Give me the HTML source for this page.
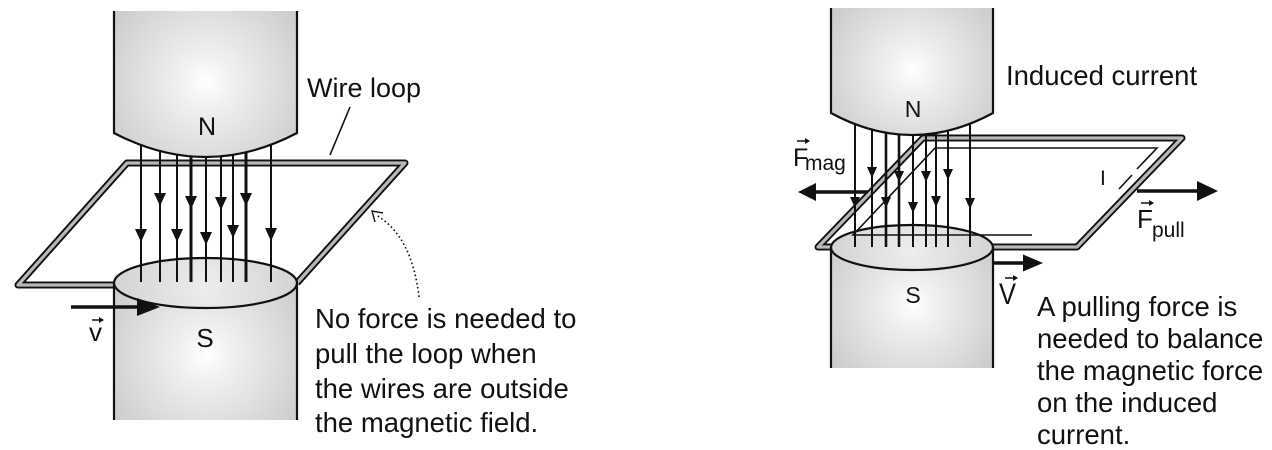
<!DOCTYPE html>
<html>
<head>
<meta charset="utf-8">
<style>
  html,body{margin:0;padding:0;background:#fff;}
  svg{display:block;}
  text{font-family:"Liberation Sans",Arial,sans-serif;fill:#111;}
</style>
</head>
<body>
<svg width="1272" height="450" viewBox="0 0 1272 450" xmlns="http://www.w3.org/2000/svg">
  <defs>
    <radialGradient id="gN1" gradientUnits="userSpaceOnUse" cx="206" cy="82" r="125">
      <stop offset="0" stop-color="#ffffff"/>
      <stop offset="0.2" stop-color="#f1f1f1"/>
      <stop offset="1" stop-color="#c6c6c6"/>
    </radialGradient>
    <radialGradient id="gS1" gradientUnits="userSpaceOnUse" cx="206" cy="355" r="125">
      <stop offset="0" stop-color="#ffffff"/>
      <stop offset="0.2" stop-color="#f1f1f1"/>
      <stop offset="1" stop-color="#c6c6c6"/>
    </radialGradient>
    <radialGradient id="gE1" gradientUnits="userSpaceOnUse" cx="206" cy="288" r="95">
      <stop offset="0" stop-color="#ededed"/>
      <stop offset="1" stop-color="#d2d2d2"/>
    </radialGradient>
    <radialGradient id="gN2" gradientUnits="userSpaceOnUse" cx="913" cy="70" r="110">
      <stop offset="0" stop-color="#ffffff"/>
      <stop offset="0.2" stop-color="#f1f1f1"/>
      <stop offset="1" stop-color="#c6c6c6"/>
    </radialGradient>
    <radialGradient id="gS2" gradientUnits="userSpaceOnUse" cx="913" cy="305" r="110">
      <stop offset="0" stop-color="#ffffff"/>
      <stop offset="0.2" stop-color="#f1f1f1"/>
      <stop offset="1" stop-color="#c6c6c6"/>
    </radialGradient>
    <radialGradient id="gE2" gradientUnits="userSpaceOnUse" cx="912" cy="252" r="85">
      <stop offset="0" stop-color="#ededed"/>
      <stop offset="1" stop-color="#d2d2d2"/>
    </radialGradient>
  </defs>

  <!-- ================= LEFT FIGURE ================= -->
  <!-- wire loop -->
  <path d="M114 285 L18 285 L127 163 L405 163 L297 283" fill="none" stroke="#111" stroke-width="7" stroke-linejoin="round"/>
  <path d="M114 285 L18 285 L127 163 L405 163 L297 283" fill="none" stroke="#b8b8b8" stroke-width="3.2" stroke-linejoin="round"/>

  <!-- S magnet -->
  <rect x="114" y="283" width="183" height="137" fill="url(#gS1)"/>
  <line x1="114" y1="283" x2="114" y2="420" stroke="#111" stroke-width="2.2"/>
  <line x1="297" y1="283" x2="297" y2="420" stroke="#111" stroke-width="2.2"/>
  <ellipse cx="205.5" cy="283" rx="91.5" ry="25" fill="url(#gE1)" stroke="#111" stroke-width="2.2"/>

  <!-- field lines -->
  <g stroke="#111" stroke-width="2">
    <line x1="141" y1="140" x2="141" y2="282"/>
    <line x1="160" y1="140" x2="160" y2="282"/>
    <line x1="177" y1="140" x2="177" y2="282"/>
    <line x1="191" y1="140" x2="191" y2="282" stroke-width="3"/>
    <line x1="206" y1="140" x2="206" y2="282"/>
    <line x1="221" y1="140" x2="221" y2="282"/>
    <line x1="233" y1="140" x2="233" y2="282"/>
    <line x1="246" y1="140" x2="246" y2="282" stroke-width="3"/>
    <line x1="271" y1="140" x2="271" y2="282"/>
  </g>
  <g fill="#111">
    <polygon points="135,229 147,229 141,242"/>
    <polygon points="154,193 166,193 160,206"/>
    <polygon points="171,229 183,229 177,242"/>
    <polygon points="185,196 197,196 191,209"/>
    <polygon points="200,232 212,232 206,245"/>
    <polygon points="215,197 227,197 221,210"/>
    <polygon points="227,225 239,225 233,238"/>
    <polygon points="240,193 252,193 246,206"/>
    <polygon points="265,228 277,228 271,241"/>
  </g>

  <!-- N magnet -->
  <path d="M114 11 L114 133 Q205.5 181 297 133 L297 11" fill="url(#gN1)" stroke="#111" stroke-width="2.2"/>
  <text x="207" y="135" font-size="25" text-anchor="middle">N</text>
  <text x="205" y="347" font-size="26" text-anchor="middle">S</text>

  <!-- velocity arrow -->
  <line x1="71" y1="307" x2="140" y2="307" stroke="#111" stroke-width="3.5"/>
  <polygon points="160,307 137,298 137,316" fill="#111"/>
  <text x="89" y="341" font-size="26">v</text>
  <line x1="92" y1="320" x2="101" y2="320" stroke="#111" stroke-width="1.5"/>
  <polygon points="104,320 99,317 99,323" fill="#111"/>

  <!-- Wire loop label -->
  <text x="307" y="97" font-size="27">Wire loop</text>
  <line x1="350" y1="107" x2="330" y2="155" stroke="#111" stroke-width="1.6"/>

  <!-- dotted pointer -->
  <path d="M419 297 Q412 236 376 215" fill="none" stroke="#111" stroke-width="1.6" stroke-dasharray="1.6 2.6"/>
  <path d="M375 222 L372 211 L383 213" fill="none" stroke="#111" stroke-width="1.4"/>

  <g font-size="27.5">
    <text x="315" y="328">No force is needed to</text>
    <text x="315" y="363">pull the loop when</text>
    <text x="315" y="398">the wires are outside</text>
    <text x="315" y="432">the magnetic field.</text>
  </g>

  <!-- ================= RIGHT FIGURE ================= -->
  <!-- F_mag arrow (behind) -->
  <line x1="812" y1="192" x2="872" y2="192" stroke="#111" stroke-width="3.5"/>
  <polygon points="798,192 816,183 816,201" fill="#111"/>

  <!-- wire loop -->
  <path d="M993 247 L1077 247 L1182 138 L923 138 L818 247 L834 247" fill="none" stroke="#111" stroke-width="7" stroke-linejoin="round"/>
  <path d="M993 247 L1077 247 L1182 138 L923 138 L818 247 L834 247" fill="none" stroke="#b8b8b8" stroke-width="3.2" stroke-linejoin="round"/>

  <!-- S magnet -->
  <rect x="831" y="247" width="162" height="121" fill="url(#gS2)"/>
  <line x1="831" y1="247" x2="831" y2="368" stroke="#111" stroke-width="2.2"/>
  <line x1="993" y1="247" x2="993" y2="368" stroke="#111" stroke-width="2.2"/>
  <ellipse cx="912" cy="247.5" rx="81" ry="22.5" fill="url(#gE2)" stroke="#111" stroke-width="2.2"/>

  <!-- inner current lines -->
  <polyline points="1032,235 853,235 935,148 1157,148 1137,169" fill="none" stroke="#111" stroke-width="1.6"/>
  <line x1="1132" y1="175" x2="1119" y2="189" stroke="#111" stroke-width="1.6"/>

  <!-- field lines -->
  <g stroke="#111" stroke-width="2">
    <line x1="855" y1="115" x2="855" y2="247"/>
    <line x1="872" y1="115" x2="872" y2="247"/>
    <line x1="886" y1="115" x2="886" y2="247" stroke-width="2.6"/>
    <line x1="899" y1="115" x2="899" y2="247" stroke-width="2.6"/>
    <line x1="913" y1="115" x2="913" y2="247"/>
    <line x1="926" y1="115" x2="926" y2="247"/>
    <line x1="936" y1="115" x2="936" y2="247"/>
    <line x1="948" y1="115" x2="948" y2="247"/>
    <line x1="970" y1="115" x2="970" y2="247"/>
  </g>
  <g fill="#111">
    <polygon points="850,197 860,197 855,208"/>
    <polygon points="867,167 877,167 872,178"/>
    <polygon points="881,197 891,197 886,208"/>
    <polygon points="894,171 904,171 899,182"/>
    <polygon points="908,202 918,202 913,213"/>
    <polygon points="921,171 931,171 926,182"/>
    <polygon points="931,196 941,196 936,207"/>
    <polygon points="943,169 953,169 948,180"/>
    <polygon points="965,198 975,198 970,209"/>
  </g>

  <!-- N magnet -->
  <path d="M831 8 L831 113 Q912 157 993 113 L993 8" fill="url(#gN2)" stroke="#111" stroke-width="2.2"/>
  <text x="913" y="117" font-size="23" text-anchor="middle">N</text>
  <text x="913" y="303" font-size="23" text-anchor="middle">S</text>

  <!-- labels -->
  <text x="1006" y="85" font-size="27.5">Induced current</text>

  <text x="793" y="166" font-size="25">F</text>
  <line x1="797" y1="141" x2="806" y2="141" stroke="#111" stroke-width="1.5"/>
  <polygon points="810,141 805,138 805,144" fill="#111"/>
  <text x="805" y="170" font-size="21">mag</text>

  <text x="1100" y="185" font-size="21">I</text>

  <!-- F_pull arrow -->
  <line x1="1137" y1="191" x2="1199" y2="191" stroke="#111" stroke-width="3.5"/>
  <polygon points="1218,191 1197,181 1197,201" fill="#111"/>
  <text x="1137" y="228" font-size="26">F</text>
  <line x1="1141" y1="203" x2="1150" y2="203" stroke="#111" stroke-width="1.5"/>
  <polygon points="1154,203 1149,200 1149,206" fill="#111"/>
  <text x="1152" y="237" font-size="21">pull</text>

  <!-- V arrow -->
  <line x1="993" y1="263" x2="1025" y2="263" stroke="#111" stroke-width="3.5"/>
  <polygon points="1043,263 1023,254.5 1023,271.5" fill="#111"/>
  <text x="999" y="304" font-size="30" textLength="17" lengthAdjust="spacingAndGlyphs">V</text>
  <line x1="1005" y1="278" x2="1014" y2="278" stroke="#111" stroke-width="1.5"/>
  <polygon points="1018,278 1013,275 1013,281" fill="#111"/>

  <g font-size="27.5">
    <text x="1037" y="316">A pulling force is</text>
    <text x="1037" y="348">needed to balance</text>
    <text x="1037" y="380">the magnetic force</text>
    <text x="1037" y="412">on the induced</text>
    <text x="1037" y="444">current.</text>
  </g>
</svg>
</body>
</html>
